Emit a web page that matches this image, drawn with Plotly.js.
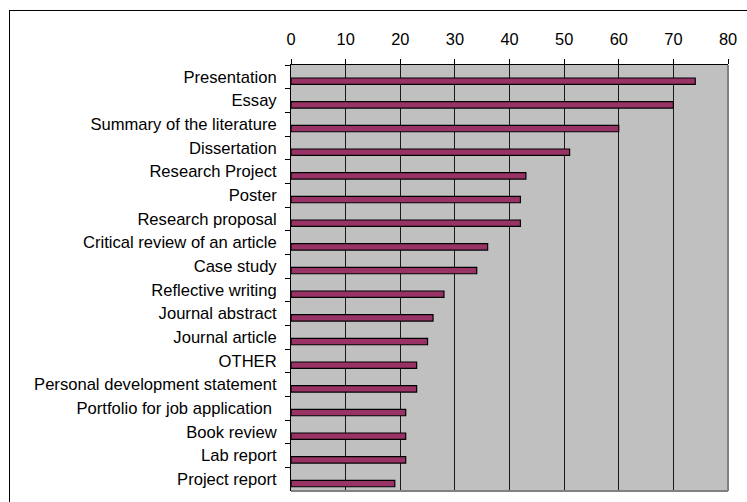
<!DOCTYPE html>
<html>
<head>
<meta charset="utf-8">
<script src="https://cdn.plot.ly/plotly-3.0.1.min.js"></script>
<style>
  html, body { margin: 0; padding: 0; background: #ffffff; overflow: hidden; }
  #wrap { position: relative; width: 747px; height: 502px; overflow: hidden; }
  #chart { width: 747px; height: 502px; }
  /* chart frame: top and left edges, the rest runs off the page */
  #frame {
    position: absolute; left: 9px; top: 10px; width: 760px; height: 520px;
    border-top: 1px solid #000; border-left: 1px solid #000;
    pointer-events: none;
  }
</style>
</head>
<body>
<div id="wrap">
  <div id="chart"></div>
  <div id="frame"></div>
</div>
<script>
// Assessment types, listed from top to bottom
const categories = [
  "Presentation",
  "Essay",
  "Summary of the literature",
  "Dissertation",
  "Research Project",
  "Poster",
  "Research proposal",
  "Critical review of an article",
  "Case study",
  "Reflective writing",
  "Journal abstract",
  "Journal article",
  "OTHER",
  "Personal development statement",
  "Portfolio for job application\u00a0",
  "Book review",
  "Lab report",
  "Project report"
];

// Count for each assessment type
const counts = [74, 70, 60, 51, 43, 42, 42, 36, 34, 28, 26, 25, 23, 23, 21, 21, 21, 19];

// Value axis ticks
const xTicks = [0, 10, 20, 30, 40, 50, 60, 70, 80];

const fontFamily = '"Liberation Sans", Arial, Helvetica, sans-serif';

const trace = {
  type: 'bar',
  orientation: 'h',
  x: counts,
  y: categories,
  width: 0.27,
  offset: 0.05,
  marker: {
    color: '#993366',
    line: { color: '#000000', width: 1.2 }
  },
  hoverinfo: 'x+y'
};

const layout = {
  width: 747,
  height: 502,
  margin: { l: 291, r: 19, t: 65, b: 11, pad: 0 },
  paper_bgcolor: '#ffffff',
  plot_bgcolor: '#c0c0c0',
  showlegend: false,
  font: { family: fontFamily, size: 16.6, color: '#000000' },
  bargap: 0,
  xaxis: {
    side: 'top',
    range: [0, 80],
    tickvals: xTicks,
    ticktext: xTicks.map(String),
    ticks: 'outside',
    ticklen: 5,
    tickwidth: 1,
    tickcolor: '#000000',
    ticklabelstandoff: 7,
    showgrid: true,
    gridcolor: '#1a1a1a',
    gridwidth: 1,
    showline: true,
    linecolor: '#000000',
    linewidth: 1,
    zeroline: false,
    tickfont: { family: fontFamily, size: 16.4, color: '#000000' },
    fixedrange: true
  },
  yaxis: {
    type: 'category',
    categoryorder: 'array',
    categoryarray: categories,
    autorange: 'reversed',
    ticks: 'outside',
    tickson: 'boundaries',
    ticklen: 5,
    tickwidth: 1,
    tickcolor: '#000000',
    ticklabelstandoff: 10,
    showgrid: false,
    showline: true,
    linecolor: '#000000',
    linewidth: 1,
    zeroline: false,
    tickfont: { family: fontFamily, size: 16.6, color: '#000000' },
    fixedrange: true
  },
  shapes: [
    // grey right and bottom edges of the plotting area
    { type: 'line', xref: 'paper', yref: 'paper', x0: 1, x1: 1, y0: 0, y1: 1,
      line: { color: '#808080', width: 2 } },
    { type: 'line', xref: 'paper', yref: 'paper', x0: 0, x1: 1, y0: 0, y1: 0,
      line: { color: '#808080', width: 2 } }
  ]
};

Plotly.newPlot('chart', [trace], layout, { displayModeBar: false, staticPlot: true });
</script>
</body>
</html>
